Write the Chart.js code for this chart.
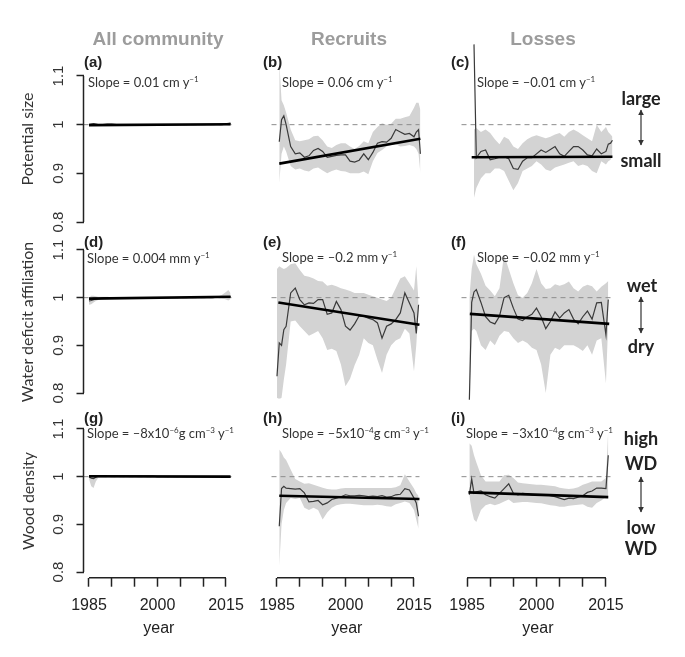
<!DOCTYPE html>
<html>
<head>
<meta charset="utf-8">
<script src="https://cdn.jsdelivr.net/npm/chart.js@4.4.1/dist/chart.umd.min.js"></script>
<style>
  body { margin: 0; background: #fff; }
  #fig { position: relative; width: 685px; height: 657px; overflow: hidden; font-family: 'Liberation Sans', Arial, sans-serif; }
  #fig canvas { position: absolute; }
  .t { position: absolute; white-space: nowrap; line-height: 1; z-index: 5; }
  .hdr { font-weight: bold; font-size: 19px; color: #9c9c9c; transform: translate(-50%, -50%); }
  .lab { font-weight: bold; font-size: 15px; color: #222; transform: translateY(-50%); }
  .slope { font-family: Lato, sans-serif; font-size: 13px; color: #333; transform: translateY(-50%); }
  .slope sup { font-size: 8px; vertical-align: 5px; line-height: 0; }
  .ytitle { font-family: Lato, sans-serif; font-size: 16px; color: #333; transform: translate(-50%, -50%) rotate(-90deg); }
  .side { font-family: Lato, sans-serif; font-weight: bold; font-size: 18px; color: #222; transform: translate(-50%, -50%); }
  svg { position: absolute; left: 0; top: 0; z-index: 4; }
</style>
</head>
<body>
<div id="fig">
  <div class="t hdr" style="left:158px; top:38px">All community</div>
  <div class="t hdr" style="left:349px; top:38px">Recruits</div>
  <div class="t hdr" style="left:543px; top:38px">Losses</div>

  <div class="t lab" style="left:84px; top:61px">(a)</div>
  <div class="t lab" style="left:263px; top:61px">(b)</div>
  <div class="t lab" style="left:451px; top:61px">(c)</div>
  <div class="t lab" style="left:84px; top:241px">(d)</div>
  <div class="t lab" style="left:263px; top:241px">(e)</div>
  <div class="t lab" style="left:451px; top:241px">(f)</div>
  <div class="t lab" style="left:84px; top:417px">(g)</div>
  <div class="t lab" style="left:263px; top:417px">(h)</div>
  <div class="t lab" style="left:451px; top:417px">(i)</div>

  <div class="t slope" style="left:88px; top:82px">Slope = 0.01 cm y<sup>−1</sup></div>
  <div class="t slope" style="left:282px; top:82px">Slope = 0.06 cm y<sup>−1</sup></div>
  <div class="t slope" style="left:477px; top:82px">Slope = –0.01 cm y<sup>−1</sup></div>
  <div class="t slope" style="left:87px; top:258px">Slope = 0.004 mm y<sup>−1</sup></div>
  <div class="t slope" style="left:282px; top:257px">Slope = –0.2 mm y<sup>−1</sup></div>
  <div class="t slope" style="left:477px; top:257px">Slope = –0.02 mm y<sup>−1</sup></div>
  <div class="t slope" style="left:87px; top:433px">Slope = –8x10<sup>−6</sup>g cm<sup>−3</sup> y<sup>−1</sup></div>
  <div class="t slope" style="left:282px; top:433px">Slope = –5x10<sup>−4</sup>g cm<sup>−3</sup> y<sup>−1</sup></div>
  <div class="t slope" style="left:466px; top:433px">Slope = –3x10<sup>−4</sup>g cm<sup>−3</sup> y<sup>−1</sup></div>

  <div class="t ytitle" style="left:27px; top:139px">Potential size</div>
  <div class="t ytitle" style="left:27px; top:322px">Water deficit affiliation</div>
  <div class="t ytitle" style="left:28px; top:501px">Wood density</div>

  <div class="t side" style="left:641px; top:98px">large</div>
  <div class="t side" style="left:641px; top:160px">small</div>
  <div class="t side" style="left:642px; top:285px">wet</div>
  <div class="t side" style="left:641px; top:346px">dry</div>
  <div class="t side" style="left:641px; top:438px">high</div>
  <div class="t side" style="left:641px; top:463px">WD</div>
  <div class="t side" style="left:641px; top:527px">low</div>
  <div class="t side" style="left:641px; top:548px">WD</div>

  <svg width="685" height="657">
    <defs>
      <marker id="ah" viewBox="0 0 10 10" refX="9" refY="5" markerWidth="5" markerHeight="5" orient="auto-start-reverse">
        <path d="M0,0 L10,5 L0,10 z" fill="#333"/>
      </marker>
    </defs>
    <line x1="641" y1="110" x2="641" y2="145" stroke="#333" stroke-width="1.2" marker-start="url(#ah)" marker-end="url(#ah)"/>
    <line x1="641" y1="297" x2="641" y2="333" stroke="#333" stroke-width="1.2" marker-start="url(#ah)" marker-end="url(#ah)"/>
    <line x1="641" y1="477" x2="641" y2="512" stroke="#333" stroke-width="1.2" marker-start="url(#ah)" marker-end="url(#ah)"/>
  </svg>
</div>

<script>
// sample years shared by all panels
const years = [1985, 1985.5, 1986, 1986.5,
  1987, 1988, 1989, 1990, 1991, 1992, 1993, 1994, 1995, 1996,
  1997, 1998, 1999, 2000, 2001, 2002, 2003, 2004, 2005, 2006,
  2007, 2008, 2009, 2010, 2011, 2012, 2013, 2014, 2015,
  2015.5, 2016, 2016.4];

const xTicks = [1985, 1990, 1995, 2000, 2005, 2010, 2015];
const xTickLabels = [1985, 2000, 2015];
const yTicks = [0.8, 0.9, 1, 1.1];
const refYears = [1983.8, 2016.2];

// (a) potential size, all community
const sizeAllMean = [1.0, 1.001, 1.002, 1.001,
  1.0, 1.0, 1.001, 1.001, 1.0, 1.0, 1.0, 1.0, 1.0, 1.0,
  0.999, 0.999, 1.0, 1.0, 1.0, 1.0, 1.0, 1.0, 1.0, 1.0,
  1.0, 1.0, 1.0, 1.0, 1.0, 1.0, 1.0, 1.0, 1.001,
  1.002, 1.003, null];
const sizeAllHigh = [1.002, 1.003, 1.003, 1.002,
  1.001, 1.001, 1.002, 1.002, 1.001, 1.001, 1.001, 1.001, 1.001, 1.001,
  1.001, 1.001, 1.001, 1.001, 1.001, 1.001, 1.001, 1.001, 1.001, 1.001,
  1.001, 1.001, 1.001, 1.001, 1.001, 1.001, 1.001, 1.002, 1.003,
  1.005, 1.006, null];
const sizeAllLow = [0.998, 0.998, 0.999, 0.999,
  0.999, 0.999, 0.999, 0.999, 0.999, 0.999, 0.999, 0.999, 0.999, 0.999,
  0.998, 0.998, 0.999, 0.999, 0.999, 0.999, 0.999, 0.999, 0.999, 0.999,
  0.999, 0.999, 0.999, 0.999, 0.999, 0.999, 0.999, 0.999, 0.999,
  0.999, 0.999, null];
const sizeAllTrendYears = [1985, 2016];
const sizeAllTrend = [0.999, 1.001];

// (b) potential size, recruits
const sizeRecMean = [null, 0.965, 1.01, 1.018,
  1.0, 0.955, 0.94, 0.942, 0.933, 0.936, 0.947, 0.951, 0.945, 0.933,
  0.935, 0.937, 0.938, 0.938, 0.925, 0.923, 0.927, 0.94, 0.928, 0.943,
  0.962, 0.965, 0.964, 0.972, 0.99, 0.985, 0.98, 0.982, 0.975,
  0.985, 0.99, 0.94];
const sizeRecHigh = [null, 1.13, 1.05, 1.04,
  1.025, 0.99, 0.968, 0.966, 0.968, 0.97, 0.976, 0.977, 0.968, 0.955,
  0.952, 0.958, 0.962, 0.962, 0.955, 0.95, 0.956, 0.966, 0.962, 0.985,
  0.995, 1.003, 1.0, 1.002, 1.012, 1.012, 1.015, 1.018, 1.035,
  1.045, 1.045, 1.03];
const sizeRecLow = [null, 0.88, 0.94, 0.955,
  0.945, 0.915, 0.908, 0.91, 0.906, 0.904, 0.91, 0.912, 0.906, 0.9,
  0.905, 0.908, 0.905, 0.904, 0.9, 0.9, 0.9, 0.904, 0.898, 0.925,
  0.942, 0.948, 0.955, 0.958, 0.96, 0.955, 0.956, 0.958, 0.955,
  0.95, 0.94, 0.9];
const sizeRecTrendYears = [1985.5, 2016.4];
const sizeRecTrend = [0.92, 0.971];

// (c) potential size, losses
const sizeLossMean = [null, null, null, 1.165,
  0.932, 0.945, 0.948, 0.928, 0.93, 0.933, 0.934, 0.93, 0.91, 0.908,
  0.925, 0.932, 0.932, 0.94, 0.948, 0.943, 0.949, 0.955, 0.94, 0.935,
  0.945, 0.955, 0.955, 0.948, 0.938, 0.936, 0.95, 0.94, 0.945,
  0.96, 0.962, 0.968];
const sizeLossHigh = [null, null, null, 0.99,
  0.993, 0.985, 0.99, 0.983, 0.97, 0.96, 0.975, 0.97, 0.955, 0.95,
  0.962, 0.97, 0.975, 0.978, 0.975, 0.972, 0.975, 0.98, 0.983, 0.975,
  0.985, 0.99, 0.985, 0.978, 0.972, 0.966, 1.0, 0.985, 0.995,
  0.985, 0.98, 0.975];
const sizeLossLow = [null, null, null, 0.85,
  0.87, 0.89, 0.9, 0.9, 0.91, 0.91, 0.905, 0.885, 0.865, 0.88,
  0.905, 0.91, 0.915, 0.925, 0.918, 0.908, 0.905, 0.912, 0.915, 0.918,
  0.922, 0.925, 0.915, 0.918, 0.915, 0.905, 0.9, 0.925, 0.918,
  0.925, 0.928, 0.935];
const sizeLossTrendYears = [1986, 2016.4];
const sizeLossTrend = [0.933, 0.934];

// (d) water deficit affiliation, all community
const wetAllMean = [0.993, 0.994, 0.996, 0.997,
  0.998, 0.999, 1.0, 1.0, 1.0, 1.0, 1.0, 1.0, 1.0, 1.0,
  1.0, 1.0, 1.0, 1.0, 1.0, 1.0, 1.0, 1.0, 1.0, 1.0,
  1.0, 1.0, 1.0, 1.0, 1.0, 1.0, 1.001, 1.001, 1.001,
  1.002, 1.002, null];
const wetAllHigh = [1.0, 1.004, 1.004, 1.003,
  1.002, 1.002, 1.002, 1.001, 1.001, 1.001, 1.001, 1.001, 1.001, 1.001,
  1.001, 1.001, 1.001, 1.001, 1.001, 1.001, 1.001, 1.001, 1.001, 1.001,
  1.001, 1.001, 1.001, 1.001, 1.001, 1.002, 1.002, 1.005, 1.012,
  1.016, 1.01, null];
const wetAllLow = [0.985, 0.986, 0.99, 0.993,
  0.995, 0.997, 0.998, 0.999, 0.999, 0.999, 0.999, 0.999, 0.999, 0.999,
  0.999, 0.999, 0.999, 0.999, 0.999, 0.999, 0.999, 0.999, 0.999, 0.999,
  0.999, 0.999, 0.999, 0.999, 0.999, 0.999, 0.999, 0.999, 0.996,
  0.994, 0.997, null];
const wetAllTrendYears = [1985, 2016];
const wetAllTrend = [0.998, 1.002];

// (e) water deficit affiliation, recruits
const wetRecMean = [0.835, 0.905, 0.9, 0.933,
  0.94, 1.01, 1.02, 0.996, 0.985, 0.989, 0.988, 0.996, 0.996, 0.965,
  0.968, 0.992, 0.975, 0.94, 0.932, 0.945, 0.962, 0.961, 0.957, 0.954,
  0.947, 0.915, 0.94, 0.945, 0.954, 0.968, 1.01, 0.989, 0.968,
  0.925, 0.985, null];
const wetRecHigh = [1.06, 1.066, 1.063, 1.06,
  1.062, 1.07, 1.072, 1.058, 1.046, 1.044, 1.04, 1.035, 1.034, 1.025,
  1.027, 1.024, 1.02, 1.017, 1.014, 1.01, 1.01, 1.01, 1.006, 1.003,
  1.0, 0.996, 0.993, 1.0, 1.02, 1.04, 1.045, 1.03, 1.015,
  1.066, 0.99, null];
const wetRecLow = [0.79, 0.786, 0.79, 0.828,
  0.86, 0.95, 0.952, 0.94, 0.93, 0.92, 0.925, 0.93, 0.915, 0.89,
  0.893, 0.888, 0.86, 0.814, 0.83, 0.858, 0.88, 0.915, 0.905, 0.9,
  0.87, 0.842, 0.88, 0.9, 0.91, 0.915, 0.935, 0.925, 0.845,
  0.9, 0.975, null];
const wetRecTrendYears = [1985.3, 2016.2];
const wetRecTrend = [0.99, 0.943];

// (f) water deficit affiliation, losses
const wetLossMean = [null, 0.786, 0.99, 1.012,
  1.017, 0.99, 0.96, 0.949, 0.945, 0.961, 1.0, 1.005, 0.978, 0.955,
  0.952, 0.96, 0.965, 0.978, 0.96, 0.935, 0.95, 0.97, 0.957, 0.968,
  0.975, 0.955, 0.945, 0.96, 0.972, 0.955, 0.989, 0.99, 0.922,
  0.996, null, null];
const wetLossHigh = [null, 1.0, 1.06, 1.09,
  1.07, 1.05, 1.025, 1.015, 1.003, 1.02, 1.09, 1.06, 1.03, 1.005,
  1.0, 1.01, 1.03, 1.06, 1.03, 1.018, 1.02, 1.028, 1.025, 1.028,
  1.034, 1.02, 1.013, 1.023, 1.027, 1.024, 1.013, 1.023, 1.03,
  1.035, null, null];
const wetLossLow = [null, 0.786, 0.93, 0.935,
  0.93, 0.9, 0.89, 0.91, 0.9, 0.92, 0.93, 0.928, 0.915, 0.905,
  0.91, 0.905, 0.895, 0.89, 0.86, 0.8, 0.88, 0.895, 0.89, 0.9,
  0.9, 0.9, 0.895, 0.888, 0.9, 0.88, 0.91, 0.915, 0.82,
  0.95, null, null];
const wetLossTrendYears = [1985.6, 2015.7];
const wetLossTrend = [0.966, 0.945];

// (g) wood density, all community
const wdAllMean = [1.0, 0.997, 0.996, 0.999,
  1.001, 1.001, 1.001, 1.001, 1.001, 1.001, 1.001, 1.001, 1.001, 1.001,
  1.001, 1.001, 1.001, 1.0, 1.0, 1.0, 1.0, 1.0, 1.0, 1.0,
  1.0, 1.0, 1.0, 1.0, 1.0, 1.0, 1.0, 1.0, 1.0,
  1.0, 0.999, null];
const wdAllHigh = [1.003, 1.003, 1.002, 1.002,
  1.002, 1.002, 1.002, 1.002, 1.002, 1.002, 1.002, 1.002, 1.002, 1.002,
  1.002, 1.002, 1.002, 1.001, 1.001, 1.001, 1.001, 1.001, 1.001, 1.001,
  1.001, 1.001, 1.001, 1.001, 1.001, 1.001, 1.001, 1.001, 1.001,
  1.001, 1.0, null];
const wdAllLow = [0.995, 0.98, 0.976, 0.99,
  0.997, 0.999, 0.999, 0.999, 0.999, 0.999, 0.999, 0.999, 0.999, 0.999,
  0.999, 0.999, 0.999, 0.999, 0.999, 0.999, 0.999, 0.999, 0.999, 0.999,
  0.999, 0.999, 0.999, 0.999, 0.999, 0.999, 0.999, 0.999, 0.999,
  0.999, 0.998, null];
const wdAllTrendYears = [1985, 2016];
const wdAllTrend = [1.001, 1.0];

// (h) wood density, recruits
const wdRecMean = [null, 0.896, 0.975, 0.98,
  0.976, 0.975, 0.974, 0.975, 0.966, 0.947, 0.948, 0.95, 0.941, 0.945,
  0.952, 0.955, 0.958, 0.962, 0.96, 0.96, 0.961, 0.96, 0.958, 0.959,
  0.958, 0.96, 0.957, 0.958, 0.962, 0.963, 0.975, 0.972, 0.955,
  0.945, 0.917, null];
const wdRecHigh = [null, 1.057, 1.05, 1.04,
  1.035, 1.015, 0.995, 0.99, 0.985, 0.986, 0.983, 0.98, 0.977, 0.974,
  0.973, 0.973, 0.975, 0.976, 0.976, 0.976, 0.976, 0.976, 0.976, 0.976,
  0.976, 0.976, 0.976, 0.976, 0.978, 0.982, 1.005, 0.99, 0.975,
  0.965, 0.96, null];
const wdRecLow = [null, 0.812, 0.9, 0.93,
  0.945, 0.955, 0.953, 0.955, 0.935, 0.93, 0.935, 0.93, 0.91, 0.925,
  0.935, 0.94, 0.942, 0.943, 0.943, 0.942, 0.941, 0.94, 0.94, 0.94,
  0.941, 0.94, 0.938, 0.937, 0.942, 0.945, 0.948, 0.945, 0.93,
  0.91, 0.89, null];
const wdRecTrendYears = [1985.5, 2016.2];
const wdRecTrend = [0.96, 0.953];

// (i) wood density, losses
const wdLossMean = [null, 0.962, 0.995, 0.965,
  0.968, 0.97, 0.962, 0.958, 0.955, 0.965, 0.975, 0.985, 0.965, 0.962,
  0.965, 0.964, 0.962, 0.962, 0.962, 0.962, 0.96, 0.958, 0.955, 0.952,
  0.955, 0.954, 0.957, 0.96, 0.967, 0.97, 0.976, 0.976, 0.975,
  1.045, null, null];
const wdLossHigh = [null, 1.07, 1.065, 1.045,
  1.03, 1.003, 0.99, 0.99, 0.99, 0.99, 1.003, 1.004, 0.997, 0.988,
  0.986, 0.985, 0.984, 0.983, 0.983, 0.982, 0.981, 0.98, 0.977, 0.975,
  0.974, 0.975, 0.978, 0.983, 0.986, 0.99, 0.99, 0.99, 0.997,
  1.1, null, null];
const wdLossLow = [null, 0.96, 0.93, 0.91,
  0.905, 0.93, 0.94, 0.943, 0.94, 0.943, 0.948, 0.952, 0.945, 0.946,
  0.947, 0.947, 0.946, 0.945, 0.944, 0.942, 0.94, 0.939, 0.937, 0.937,
  0.939, 0.94, 0.941, 0.942, 0.937, 0.935, 0.945, 0.95, 0.958,
  0.96, null, null];
const wdLossTrendYears = [1985.3, 2015.5];
const wdLossTrend = [0.967, 0.957];

const panels = [
  { row: 0, col: 0, mean: sizeAllMean, high: sizeAllHigh, low: sizeAllLow, tx: sizeAllTrendYears, ty: sizeAllTrend },
  { row: 0, col: 1, mean: sizeRecMean, high: sizeRecHigh, low: sizeRecLow, tx: sizeRecTrendYears, ty: sizeRecTrend },
  { row: 0, col: 2, mean: sizeLossMean, high: sizeLossHigh, low: sizeLossLow, tx: sizeLossTrendYears, ty: sizeLossTrend },
  { row: 1, col: 0, mean: wetAllMean, high: wetAllHigh, low: wetAllLow, tx: wetAllTrendYears, ty: wetAllTrend },
  { row: 1, col: 1, mean: wetRecMean, high: wetRecHigh, low: wetRecLow, tx: wetRecTrendYears, ty: wetRecTrend },
  { row: 1, col: 2, mean: wetLossMean, high: wetLossHigh, low: wetLossLow, tx: wetLossTrendYears, ty: wetLossTrend },
  { row: 2, col: 0, mean: wdAllMean, high: wdAllHigh, low: wdAllLow, tx: wdAllTrendYears, ty: wdAllTrend },
  { row: 2, col: 1, mean: wdRecMean, high: wdRecHigh, low: wdRecLow, tx: wdRecTrendYears, ty: wdRecTrend },
  { row: 2, col: 2, mean: wdLossMean, high: wdLossHigh, low: wdLossLow, tx: wdLossTrendYears, ty: wdLossTrend },
];

// layout of the 3x3 grid (pixels)
const X_MIN = 1983.8, X_MAX = 2016.8;
const Y_MIN = 0.788, Y_MAX = 1.18;
const colLeft = [83.5, 271.5, 461.5];
const colPxPerYear = [4.567, 4.567, 4.63];
const rowTop11 = [76, 250, 429];
const rowBot08 = [222, 393, 572];
const PAD_L = 50, PAD_R = 26, PAD_T = 4, PAD_B = 66;
const YW = 45, XH = 60;

const axisFont = { family: 'Liberation Sans', size: 15 };
const ink = '#222';

// R-style axis line: only from the first to the last tick
const rAxisLine = {
  id: 'rAxisLine',
  afterDraw(chart) {
    const { ctx, chartArea } = chart;
    const sx = chart.scales.x, sy = chart.scales.y;
    ctx.save();
    ctx.strokeStyle = ink;
    ctx.lineWidth = 1.5;
    ctx.beginPath();
    if (sx.options.display) {
      ctx.moveTo(sx.getPixelForValue(xTicks[0]), chartArea.bottom);
      ctx.lineTo(sx.getPixelForValue(xTicks[xTicks.length - 1]), chartArea.bottom);
    }
    if (sy.options.display) {
      ctx.moveTo(chartArea.left, sy.getPixelForValue(yTicks[0]));
      ctx.lineTo(chartArea.left, sy.getPixelForValue(yTicks[yTicks.length - 1]));
    }
    ctx.stroke();
    ctx.restore();
  }
};

const pts = (xs, ys) => xs.map((x, i) => ({ x: x, y: ys[i] }));

// fixed box sizes, and no extra room asked for by the edge labels
const fixBox = (s, w, h) => {
  if (w !== null) s.width = w;
  if (h !== null) s.height = h;
  s.paddingTop = 0; s.paddingBottom = 0; s.paddingLeft = 0; s.paddingRight = 0;
};

const fig = document.getElementById('fig');

panels.forEach(p => {
  const showY = p.col === 0;
  const showX = p.row === 2;
  const k = (rowBot08[p.row] - rowTop11[p.row]) / 0.3;
  const areaLeft = colLeft[p.col];
  const areaW = (X_MAX - X_MIN) * colPxPerYear[p.col];
  const areaTop = rowTop11[p.row] - (Y_MAX - 1.1) * k;
  const areaBottom = rowBot08[p.row] + (0.8 - Y_MIN) * k;

  const cvLeft = Math.round(areaLeft - PAD_L);
  const cvTop = Math.round(areaTop - PAD_T);
  const cvW = Math.round(areaLeft + areaW + PAD_R) - cvLeft;
  const cvH = Math.round(areaBottom + PAD_B) - cvTop;

  const cv = document.createElement('canvas');
  cv.width = cvW;
  cv.height = cvH;
  cv.style.left = cvLeft + 'px';
  cv.style.top = cvTop + 'px';
  cv.style.width = cvW + 'px';
  cv.style.height = cvH + 'px';
  fig.appendChild(cv);

  new Chart(cv, {
    type: 'line',
    data: {
      datasets: [
        { data: pts(p.tx, p.ty), borderColor: '#000', borderWidth: 2.6, pointRadius: 0, clip: false },
        { data: pts(years, p.mean), borderColor: '#3a3a3a', borderWidth: 1.2, pointRadius: 0, clip: false },
        { data: pts(refYears, [1, 1]), borderColor: '#8c8c8c', borderWidth: 1, borderDash: [5, 4], pointRadius: 0, clip: false },
        { data: pts(years, p.high), borderWidth: 0, pointRadius: 0, backgroundColor: '#d3d3d3', fill: '+1', clip: false },
        { data: pts(years, p.low), borderWidth: 0, pointRadius: 0, fill: false, clip: false },
      ]
    },
    options: {
      responsive: false,
      animation: false,
      events: [],
      layout: {
        padding: {
          left: areaLeft - cvLeft - (showY ? YW : 0),
          right: cvLeft + cvW - (areaLeft + areaW),
          top: areaTop - cvTop,
          bottom: cvTop + cvH - areaBottom - (showX ? XH : 0),
        }
      },
      plugins: { legend: { display: false }, tooltip: { enabled: false } },
      scales: {
        x: {
          type: 'linear',
          min: X_MIN,
          max: X_MAX,
          display: showX,
          border: { display: false },
          grid: { drawOnChartArea: false, tickLength: 9, tickColor: ink, tickWidth: 1.5 },
          afterBuildTicks: s => { s.ticks = xTicks.map(v => ({ value: v })); },
          afterFit: s => fixBox(s, null, showX ? XH : 0),
          ticks: {
            autoSkip: false, maxRotation: 0, minRotation: 0, padding: 9,
            color: ink, font: { family: 'Liberation Sans', size: 16 },
            callback: v => xTickLabels.includes(v) ? String(v) : ''
          },
          title: { display: true, text: 'year', color: ink, font: { family: 'Liberation Sans', size: 16 }, padding: 0 }
        },
        y: {
          type: 'linear',
          min: Y_MIN,
          max: Y_MAX,
          display: showY,
          border: { display: false },
          grid: { drawOnChartArea: false, tickLength: 7, tickColor: ink, tickWidth: 1.5 },
          afterBuildTicks: s => { s.ticks = yTicks.map(v => ({ value: v })); },
          afterFit: s => fixBox(s, showY ? YW : 0, null),
          ticks: {
            minRotation: 90, maxRotation: 90, crossAlign: 'center', padding: 7,
            color: '#333', font: axisFont,
            callback: v => v === 1 ? '1' : v.toFixed(1)
          }
        }
      }
    },
    plugins: [rAxisLine]
  });
});
</script>
</body>
</html>
